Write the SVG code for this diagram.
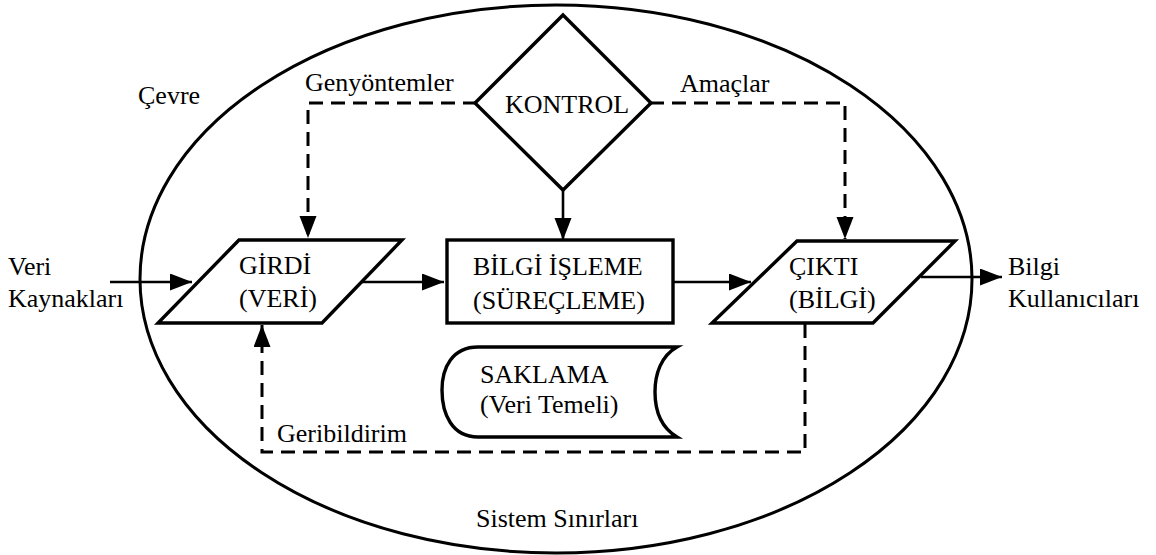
<svg xmlns="http://www.w3.org/2000/svg" width="1156" height="555" viewBox="0 0 1156 555">
  <style>
    text { font-size: 26px; fill: #000; }
    .shape { fill: none; stroke: #000; stroke-width: 3.4; stroke-linejoin: miter; }
    .boundary { fill: none; stroke: #000; stroke-width: 3; }
    .flow { fill: none; stroke: #000; stroke-width: 2.6; }
    .ctrl { fill: none; stroke: #000; stroke-width: 3; stroke-dasharray: 14 8; }
  </style>
  <defs>
    <marker id="arrow" markerUnits="userSpaceOnUse" markerWidth="22" markerHeight="18" refX="22" refY="8.5" orient="auto">
      <path d="M0,0 L22,8.5 L0,17 z" fill="#000"/>
    </marker>
  </defs>

  <rect width="1156" height="555" fill="#fff"/>

  <g font-family="'Liberation Serif', 'Times New Roman', 'DejaVu Serif', serif">
  <!-- system boundary -->
  <g id="boundary">
    <ellipse class="boundary" cx="556" cy="279" rx="416" ry="274"/>
    <text x="476" y="527">Sistem Sınırları</text>
    <text x="138" y="104">Çevre</text>
  </g>

  <!-- connectors -->
  <g id="connectors">
    <line class="flow" x1="110" y1="282" x2="192" y2="282" marker-end="url(#arrow)"/>
    <line class="flow" x1="362" y1="282" x2="444" y2="282" marker-end="url(#arrow)"/>
    <line class="flow" x1="673" y1="282" x2="751" y2="282" marker-end="url(#arrow)"/>
    <line class="flow" x1="921" y1="277" x2="1002" y2="277" marker-end="url(#arrow)"/>
    <line class="flow" x1="563" y1="190" x2="563" y2="240" marker-end="url(#arrow)"/>
    <path class="ctrl" d="M477 103 H308 V238" marker-end="url(#arrow)"/>
    <path class="ctrl" d="M650 103 H845 V239" marker-end="url(#arrow)"/>
    <path class="ctrl" d="M805 324 V452 H262 V325" marker-end="url(#arrow)"/>
    <text x="305" y="91">Genyöntemler</text>
    <text x="680" y="92">Amaçlar</text>
    <text x="277" y="442">Geribildirim</text>
  </g>

  <!-- external sources and users -->
  <g id="sources">
    <text x="8" y="275">Veri</text>
    <text x="8" y="307">Kaynakları</text>
  </g>
  <g id="users">
    <text x="1008" y="275">Bilgi</text>
    <text x="1008" y="307">Kullanıcıları</text>
  </g>

  <!-- control -->
  <g id="kontrol">
    <polygon class="shape" points="563,15 651,103 563,190 475,103"/>
    <text x="505" y="113">KONTROL</text>
  </g>

  <!-- input -->
  <g id="girdi">
    <polygon class="shape" points="239,240 402,240 322,323 158,323"/>
    <text x="239" y="274">GİRDİ</text>
    <text x="239" y="307">(VERİ)</text>
  </g>

  <!-- processing -->
  <g id="isleme">
    <rect class="shape" x="447" y="240" width="226" height="83"/>
    <text x="473" y="275">BİLGİ İŞLEME</text>
    <text x="473" y="309">(SÜREÇLEME)</text>
  </g>

  <!-- output -->
  <g id="cikti">
    <polygon class="shape" points="797,241 955,241 873,323 712,323"/>
    <text x="789" y="275">ÇIKTI</text>
    <text x="789" y="308">(BİLGİ)</text>
  </g>

  <!-- storage -->
  <g id="saklama">
    <path class="shape" d="M677 347 L478 347 C452 347 442 368 442 390 C442 414 452 437 478 437 L677 437 C662 428 655 412 655 392 C655 374 661 356 677 347 Z"/>
    <text x="480" y="383">SAKLAMA</text>
    <text x="480" y="413">(Veri Temeli)</text>
  </g>
  </g>
</svg>
